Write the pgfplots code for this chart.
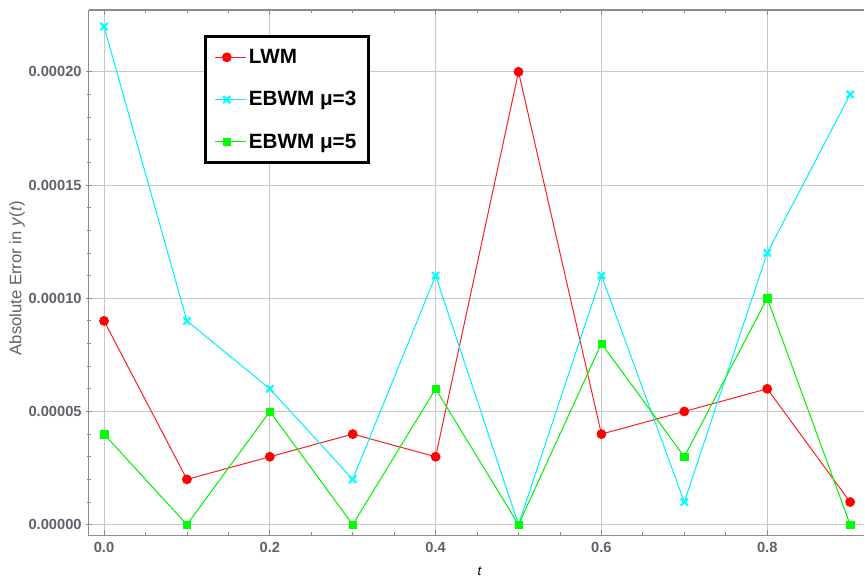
\documentclass[border=0pt]{standalone}
\usepackage{fontspec}
\setmainfont{Liberation Sans}
\usepackage{pgfplots}
\pgfplotsset{compat=1.18}
\definecolor{tickgray}{RGB}{95,98,108}
\definecolor{framegray}{RGB}{140,140,140}
\definecolor{gridgray}{RGB}{200,200,200}
\definecolor{lred}{RGB}{255,30,30}
\definecolor{mred}{RGB}{255,0,0}
\definecolor{lcyan}{RGB}{0,240,255}
\definecolor{mcyan}{RGB}{0,255,255}
\definecolor{lgreen}{RGB}{0,240,0}
\definecolor{mgreen}{RGB}{0,255,0}
\begin{document}
\begin{tikzpicture}
\begin{axis}[
  scale only axis,
  width=582pt, height=394.5pt,
  xmin=-0.0182, xmax=0.9173,
  ymin=-0.00000485, ymax=0.0002273,
  axis x line=box, axis y line=left,
  y axis line style={-},
  axis line style={framegray, line width=0.8pt},
  xtick={0,0.2,0.4,0.6,0.8},
  ytick={0,0.00005,0.0001,0.00015,0.0002},
  minor x tick num=3,
  minor y tick num=4,
  major tick length=4pt, minor tick length=2.4pt,
  every tick/.style={framegray, line width=0.6pt},
  scaled y ticks=false,
  scaled x ticks=false,
  xticklabel style={/pgf/number format/.cd, fixed, fixed zerofill, precision=1, /tikz/.cd, yshift=-1.5pt},
  yticklabel style={/pgf/number format/.cd, fixed, fixed zerofill, precision=5},
  /pgf/number format/assume math mode=true,
  ticklabel style={font=\fontsize{11}{13}\selectfont\bfseries, text=tickgray},
  grid=major,
  major grid style={gridgray, line width=0.6pt},
  xlabel={\textit{t}},
  xlabel style={font=\fontsize{12}{14}\selectfont\bfseries, text=tickgray},
  every axis x label/.style={at={(axis description cs:0.504,-0.0684)}, anchor=center},
  ylabel={Absolute Error in \textit{y}(\textit{t})},
  every axis y label/.style={at={(axis description cs:-0.0926,0.49)}, anchor=center, rotate=90},
  ylabel style={font=\fontsize{12.5}{14}\selectfont, text=tickgray},
  legend cell align=left,
  legend style={at={(axis description cs:0.148,0.9525)}, anchor=north west,
    draw=black, line width=2.4pt, fill=white,
    font=\fontsize{15.5}{18}\selectfont\bfseries,
    inner xsep=7pt, inner ysep=7.5pt, row sep=15.5pt},
  legend image code/.code={
    \draw[mark repeat=2,mark phase=2] plot coordinates {(0pt,0pt) (8.75pt,0pt) (17.5pt,0pt)};
    \path (0pt,0pt) -- (23pt,0pt);
  },
]
\addplot[lred, line width=0.75pt, mark=*, mark size=3.4pt, mark options={fill=mred, draw=mred, line width=0.5pt}]
  coordinates {(0,0.00009) (0.1,0.00002) (0.2,0.00003) (0.3,0.00004) (0.4,0.00003) (0.5,0.0002) (0.6,0.00004) (0.7,0.00005) (0.8,0.00006) (0.9,0.00001)};
\addlegendentry{LWM}
\addplot[lcyan, line width=0.75pt, mark=x, mark size=3.8pt, mark options={draw=mcyan, line width=1.6pt}]
  coordinates {(0,0.00022) (0.1,0.00009) (0.2,0.00006) (0.3,0.00002) (0.4,0.00011) (0.5,0) (0.6,0.00011) (0.7,0.00001) (0.8,0.00012) (0.9,0.00019)};
\addlegendentry{EBWM μ=3}
\addplot[lgreen, line width=0.75pt, mark=square*, mark size=2.8pt, mark options={fill=mgreen, draw=mgreen, line width=0.3pt}]
  coordinates {(0,0.00004) (0.1,0) (0.2,0.00005) (0.3,0) (0.4,0.00006) (0.5,0) (0.6,0.00008) (0.7,0.00003) (0.8,0.0001) (0.9,0)};
\addlegendentry{EBWM μ=5}
\end{axis}
\path ([xshift=-66.75pt,yshift=-33pt]current axis.south west) rectangle ([yshift=7.5pt]current axis.north east);
\end{tikzpicture}
\end{document}
